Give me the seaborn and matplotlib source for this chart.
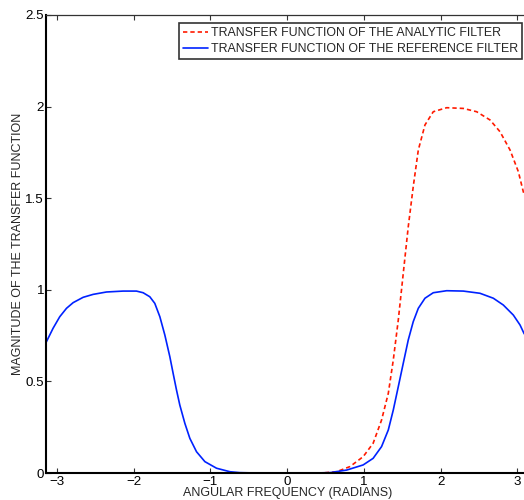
import matplotlib
matplotlib.use("Agg")
import matplotlib.pyplot as plt
import seaborn as sns
import pandas as pd

# Reference (band-pass) filter magnitude, sampled over [-pi, pi]
ref_w = [-3.1416, -3.052, -2.965, -2.877, -2.79, -2.66, -2.53, -2.356, -2.139, -1.965,
         -1.878, -1.791, -1.726, -1.66, -1.595, -1.53, -1.487, -1.443, -1.40, -1.334,
         -1.269, -1.182, -1.073, -0.921, -0.747, -0.617, -0.40, 0.0, 0.35, 0.557,
         0.775, 0.99, 1.12, 1.23, 1.318, 1.383, 1.448, 1.513, 1.578, 1.643,
         1.709, 1.796, 1.904, 2.079, 2.296, 2.513, 2.687, 2.817, 2.948, 3.035,
         3.087, 3.1416]
ref_mag = [0.714, 0.79, 0.853, 0.899, 0.93, 0.959, 0.975, 0.988, 0.993, 0.993,
           0.984, 0.962, 0.926, 0.853, 0.753, 0.635, 0.544, 0.453, 0.371, 0.271,
           0.189, 0.116, 0.062, 0.026, 0.007, 0.002, 0.0, 0.0, 0.0, 0.002,
           0.016, 0.044, 0.08, 0.144, 0.235, 0.344, 0.471, 0.599, 0.726, 0.826,
           0.899, 0.954, 0.984, 0.995, 0.993, 0.981, 0.954, 0.917, 0.862, 0.808,
           0.762, 0.73]

# Analytic filter magnitude (zero for negative frequencies)
ana_w = [-3.1416, 0.45, 0.644, 0.818, 0.99, 1.12, 1.23, 1.318, 1.383, 1.448,
         1.513, 1.578, 1.643, 1.709, 1.796, 1.904, 2.079, 2.296, 2.47, 2.644,
         2.774, 2.905, 3.013, 3.078, 3.1416]
ana_mag = [0.0, 0.0, 0.007, 0.035, 0.089, 0.162, 0.289, 0.435, 0.617, 0.835,
           1.09, 1.344, 1.563, 1.763, 1.9, 1.972, 1.994, 1.99, 1.972, 1.927,
           1.863, 1.763, 1.645, 1.535, 1.46]

x_ticks = [-3, -2, -1, 0, 1, 2, 3]
x_tick_labels = ["\u22123", "\u22122", "\u22121", "0", "1", "2", "3"]
y_ticks = [0, 0.5, 1, 1.5, 2, 2.5]
y_tick_labels = ["0", "0.5", "1", "1.5", "2", "2.5"]

sns.set_style("ticks")
plt.rcParams["font.family"] = ["Liberation Sans", "DejaVu Sans"]

fig = plt.figure(figsize=(5.24, 5.0), dpi=100)
# axes box runs slightly past the right edge of the canvas
ax = fig.add_axes([46.2 / 524, 27 / 500, (528.2 - 46.2) / 524, 458 / 500])

ana_df = pd.DataFrame({"w": ana_w, "mag": ana_mag})
ref_df = pd.DataFrame({"w": ref_w, "mag": ref_mag})

sns.lineplot(data=ana_df, x="w", y="mag", ax=ax, color="#ff1a00", lw=1.2,
             sort=False, label="TRANSFER FUNCTION OF THE ANALYTIC FILTER")
ax.lines[-1].set_dashes((2.6, 1.8))
sns.lineplot(data=ref_df, x="w", y="mag", ax=ax, color="#0022ff", lw=1.2,
             sort=False, label="TRANSFER FUNCTION OF THE REFERENCE FILTER")
for ln in ax.lines:
    ln.set_solid_joinstyle("round")
    ln.set_dash_joinstyle("round")

ax.set_xlim(-3.1416, 3.1416)
ax.set_ylim(0, 2.5)
ax.set_xticks(x_ticks)
ax.set_xticklabels(x_tick_labels)
ax.set_yticks(y_ticks)
ax.set_yticklabels(y_tick_labels)

ax.tick_params(direction="in", length=3.5, width=0.8, labelsize=9.6,
               top=True, right=False, pad=2, colors="#333333", labelcolor="black")
ax.tick_params(axis="y", pad=1.5)

for side in ["top", "right"]:
    ax.spines[side].set_visible(True)
    ax.spines[side].set_linewidth(0.9)
    ax.spines[side].set_color("#333333")
for side in ["left", "bottom"]:
    ax.spines[side].set_linewidth(1.5)
    ax.spines[side].set_color("black")

ax.set_xlabel("ANGULAR FREQUENCY (RADIANS)", fontsize=9.0, labelpad=-0.5)
ax.set_ylabel("MAGNITUDE OF THE TRANSFER FUNCTION", fontsize=9.0, labelpad=1)

leg = ax.legend(loc="upper right", bbox_to_anchor=(522 / 524, 1 - 23 / 500),
                bbox_transform=fig.transFigure, borderaxespad=0,
                fontsize=8.9, frameon=True, fancybox=False, handlelength=2.0,
                handletextpad=0.2, borderpad=0.35, labelspacing=0.3)
leg.get_frame().set_edgecolor("black")
leg.get_frame().set_linewidth(1.2)

fig.savefig("out.png", dpi=100)
